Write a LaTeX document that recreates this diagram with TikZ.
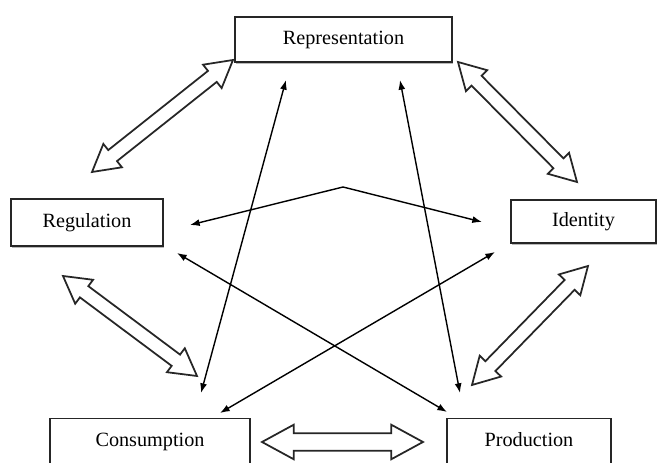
\documentclass[tikz,border=0pt]{standalone}
\usepackage{fontspec}
\setmainfont{Liberation Serif}
\usepackage{tikz}
\usetikzlibrary{arrows.meta,calc,positioning,shadows}
\tikzset{conceptbox/.style={
    % The shape:
    rectangle,
    % The size:
    minimum height=9mm,
    text height=1.6ex,
    text depth=0.45ex,
    % The border:
    line width=1pt,
    draw=black!85,
    fill=white,
    drop shadow={shadow xshift=0.7pt,shadow yshift=-0.9pt,fill=black!55},
    % Font
    font=\fontsize{11.5}{13}\selectfont
    },
    link/.style={
    line width=0.8pt,
    {Latex[length=5.5pt,width=4pt]}-{Latex[length=5.5pt,width=4pt]},
    },
    hollow/.style={
    line width=1pt,
    draw=black!85,
    fill=white,
    line join=miter,
    },
}
% sizes of the hollow double arrows
\newcommand\blkhead{15pt}
\newcommand\blkwing{8.5pt}
\newcommand\blkshaft{4pt}
\newcommand\hollowarrow[2]{%
  \draw[hollow] (#1)
    -- ($(#1)!\blkhead!(#2)!\blkwing!90:(#2)$)
    -- ($(#1)!\blkhead!(#2)!\blkshaft!90:(#2)$)
    -- ($(#2)!\blkhead!(#1)!\blkshaft!-90:(#1)$)
    -- ($(#2)!\blkhead!(#1)!\blkwing!-90:(#1)$)
    -- (#2)
    -- ($(#2)!\blkhead!(#1)!\blkwing!90:(#1)$)
    -- ($(#2)!\blkhead!(#1)!\blkshaft!90:(#1)$)
    -- ($(#1)!\blkhead!(#2)!\blkshaft!-90:(#2)$)
    -- ($(#1)!\blkhead!(#2)!\blkwing!-90:(#2)$)
    -- cycle;}

\begin{document}
\begin{tikzpicture}[x=0.2mm,y=-0.2mm]
    \useasboundingbox (0,0) rectangle (657,463);

    \node (repr)   [conceptbox,minimum width=43.4mm] at (343.5,39.5) {Representation};
    \node (regul)  [conceptbox,minimum width=30.4mm,minimum height=9.4mm] at (87,222.5) {Regulation};
    \node (ident)  [conceptbox,minimum width=29mm,minimum height=8.6mm] at (583.5,221.5) {Identity};
    \node (consum) [conceptbox,minimum width=40mm,minimum height=9.4mm] at (150,442) {Consumption};
    \node (prod)   [conceptbox,minimum width=32.8mm,minimum height=9.4mm] at (529,442) {Production};

    % ends of the thin arrows
    \coordinate (reprL)  at (286,80);
    \coordinate (reprR)  at (400,80);
    \coordinate (peak)   at (343,187);
    \coordinate (regulE) at (190,225);
    \coordinate (regulS) at (177,253);
    \coordinate (identW) at (482,222);
    \coordinate (identS) at (495,252);
    \coordinate (consN)  at (201,393);
    \coordinate (consNE) at (220,413);
    \coordinate (prodN)  at (460,393);
    \coordinate (prodNW) at (447,412);

    \draw[link] (consN) -- (reprL);
    \draw[link] (prodN) -- (reprR);
    \draw[link] (regulS) -- (prodNW);
    \draw[link] (identS) -- (consNE);
    \draw[link] (regulE) -- (peak) -- (identW);

    % ends of the hollow arrows
    \coordinate (a1) at (233,60);  \coordinate (b1) at (92,172);
    \coordinate (a2) at (458,62);  \coordinate (b2) at (577,182);
    \coordinate (a3) at (63,276);  \coordinate (b3) at (197,376);
    \coordinate (a4) at (588,266); \coordinate (b4) at (472,385);
    \coordinate (a5) at (262,442); \coordinate (b5) at (423,442);

    \hollowarrow{a1}{b1}
    \hollowarrow{a2}{b2}
    \hollowarrow{a3}{b3}
    \hollowarrow{a4}{b4}
    \renewcommand\blkhead{18pt}
    \renewcommand\blkwing{9.8pt}
    \renewcommand\blkshaft{5pt}
    \hollowarrow{a5}{b5}
\end{tikzpicture}
\end{document}
